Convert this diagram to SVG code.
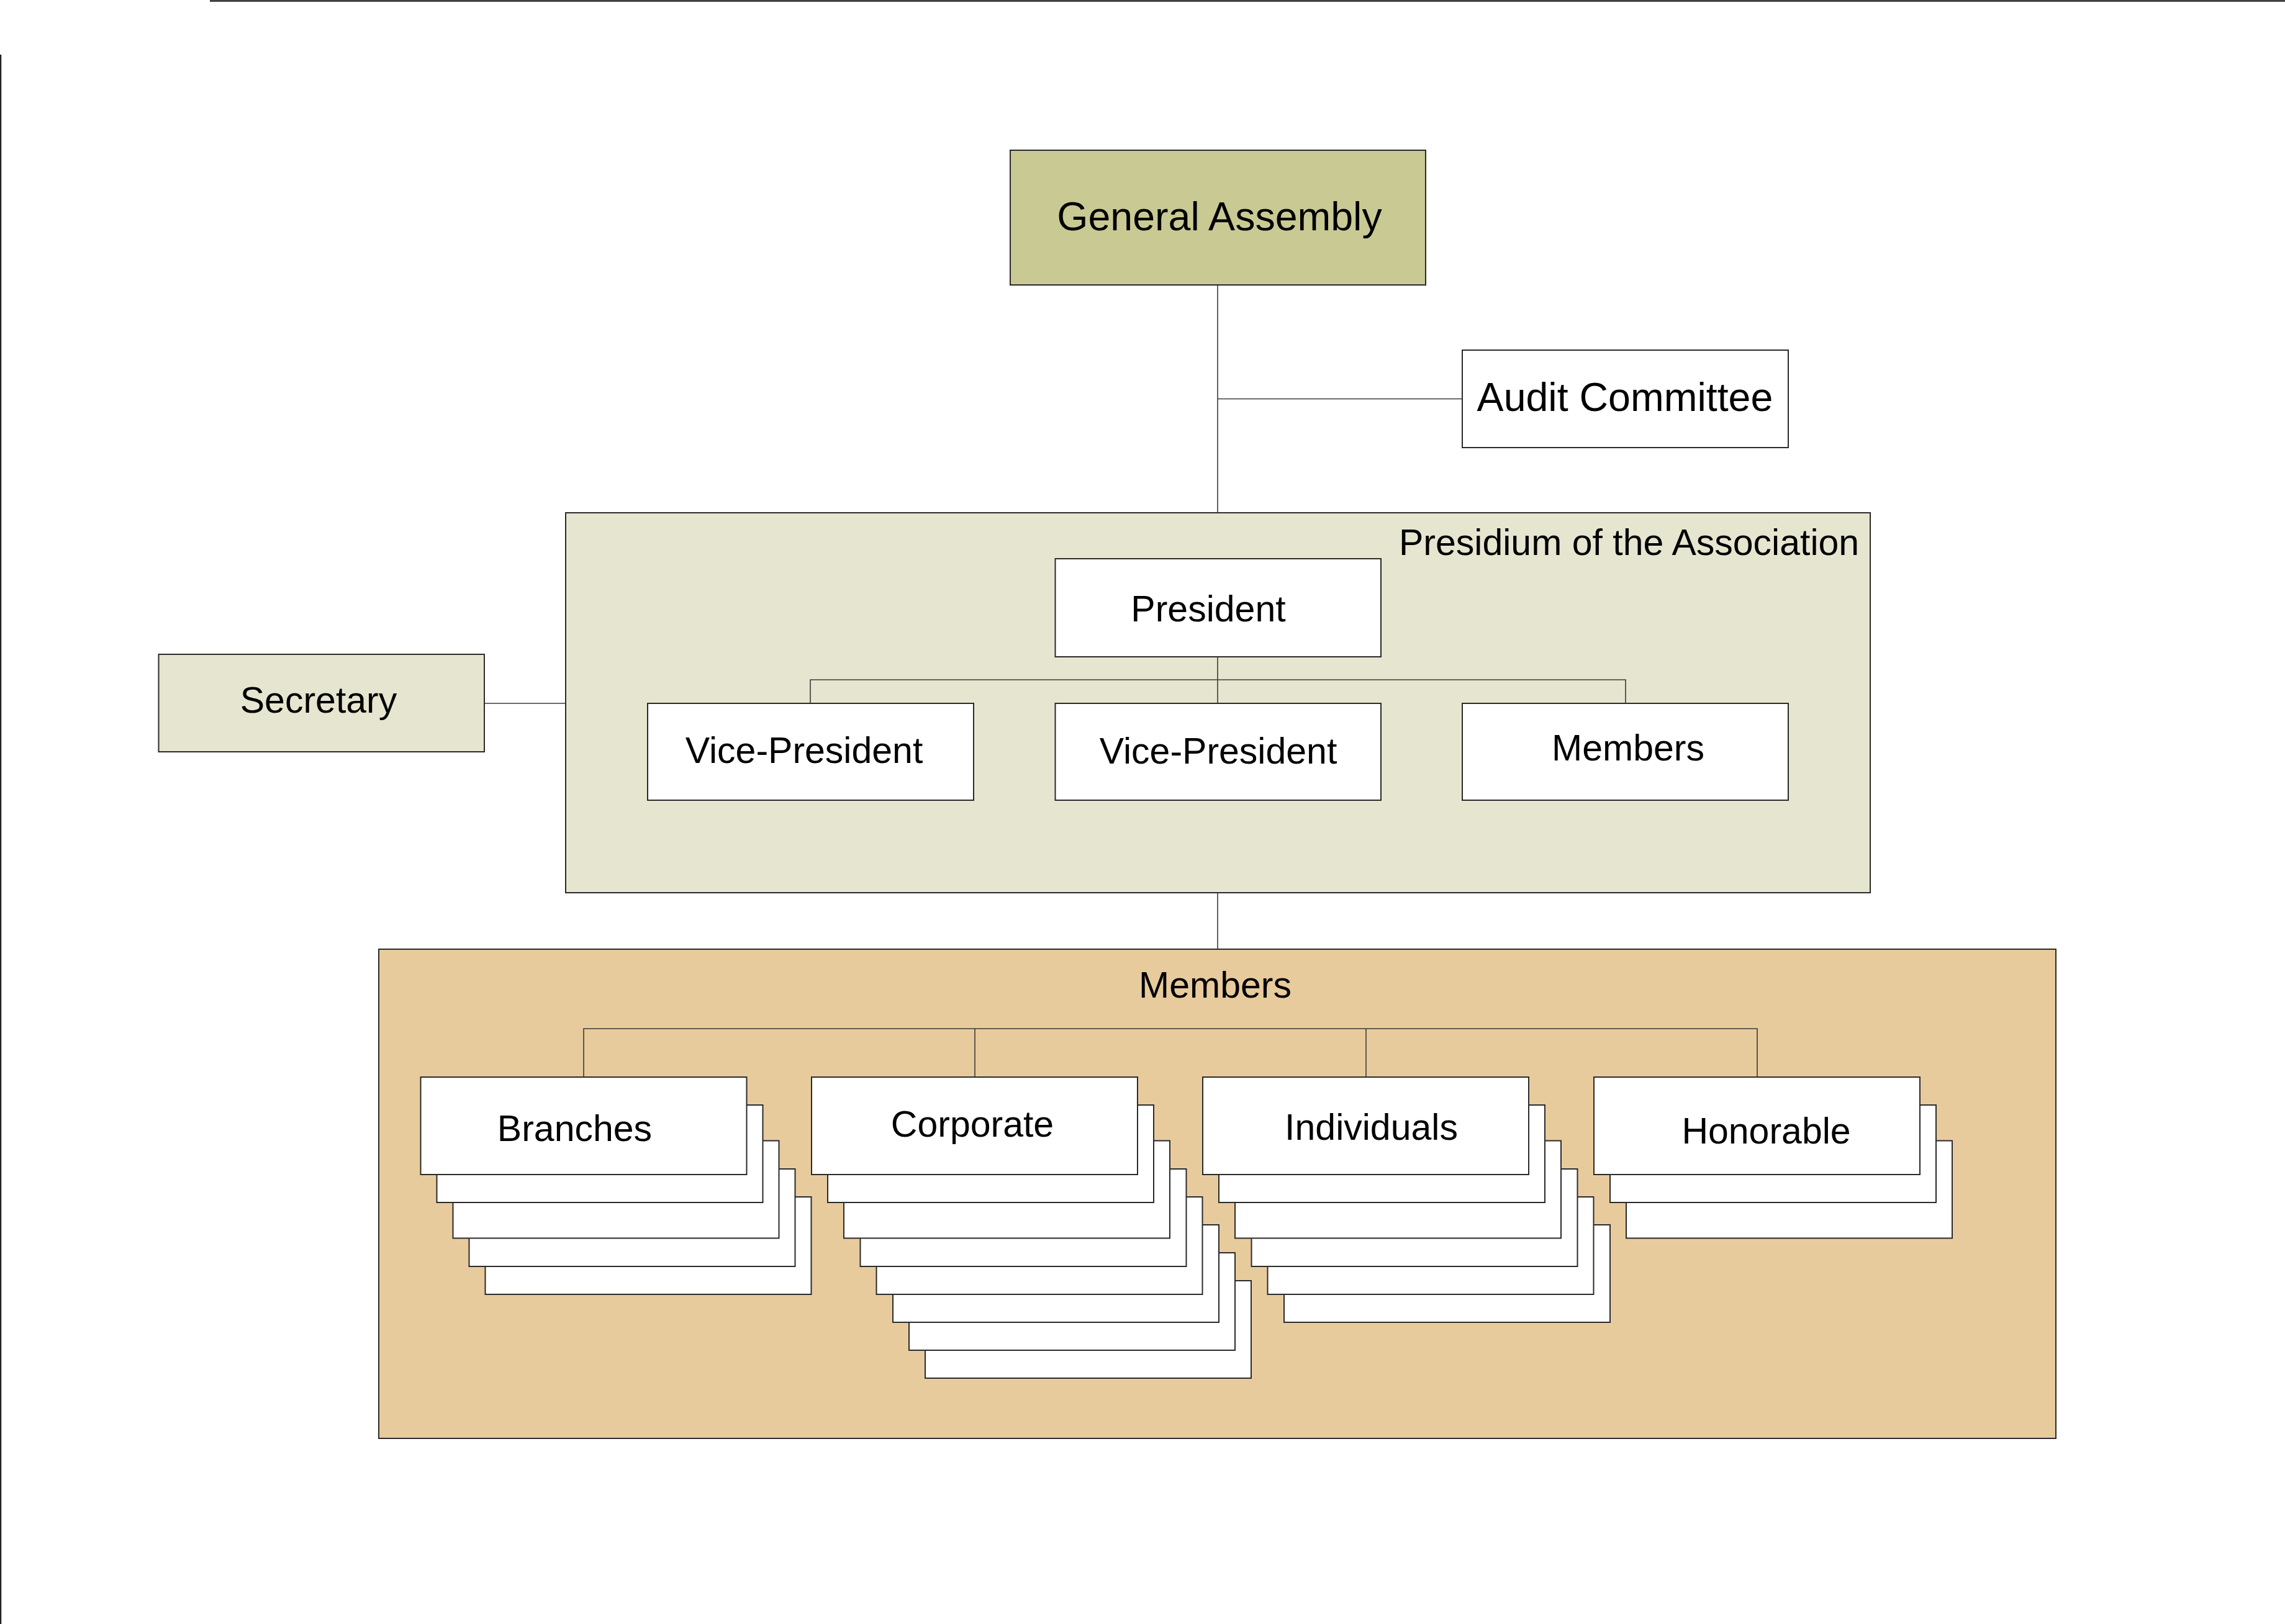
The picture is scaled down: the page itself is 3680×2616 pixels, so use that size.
<svg xmlns="http://www.w3.org/2000/svg" width="3680" height="2616" viewBox="0 0 3680 2616">
<style>
.box{stroke:#2a2a2a;stroke-width:2}
.w{fill:#ffffff}
.ga{fill:#c9c994}
.lt{fill:#e6e5cf}
.tan{fill:#e8cb9c}
.con{stroke:#3a3a3a;stroke-width:1.6;fill:none}
text{font-family:"Liberation Sans",Arial,sans-serif;fill:#000;font-size:59px}
text.big{font-size:64.5px}
.c{text-anchor:middle}
.frame{stroke:#222;stroke-width:2.5;fill:none}
</style>
<rect width="3680" height="2616" fill="#ffffff"/>
<g id="frame">
<line class="frame" x1="338" y1="1.5" x2="3680" y2="1.5"/>
<line class="frame" x1="1" y1="88" x2="1" y2="2616"/>
</g>
<g id="presidium-container">
<rect class="box lt" x="911" y="826" width="2101" height="612"/>
<text x="2253" y="894">Presidium of the Association</text>
</g>
<g id="members-container">
<rect class="box tan" x="610" y="1529" width="2701" height="788"/>
<text class="c" x="1957" y="1607">Members</text>
</g>
<g id="connectors">
<line class="con" x1="1961" y1="459" x2="1961" y2="826"/>
<line class="con" x1="1961" y1="642.5" x2="2355" y2="642.5"/>
<line class="con" x1="780" y1="1133" x2="911" y2="1133"/>
<line class="con" x1="1961" y1="1058" x2="1961" y2="1133"/>
<polyline class="con" points="1305,1133 1305,1095 2618,1095 2618,1133"/>
<line class="con" x1="1961" y1="1438" x2="1961" y2="1529"/>
<polyline class="con" points="940,1735 940,1657 2830,1657 2830,1735"/>
<line class="con" x1="1570" y1="1657" x2="1570" y2="1735"/>
<line class="con" x1="2200" y1="1657" x2="2200" y2="1735"/>
</g>
<g id="general-assembly">
<rect class="box ga" x="1627" y="242" width="669" height="217"/>
<text class="c big" x="1964" y="371">General Assembly</text>
</g>
<g id="audit-committee">
<rect class="box w" x="2355" y="564" width="525" height="157"/>
<text class="c big" x="2617" y="662">Audit Committee</text>
</g>
<g id="secretary">
<rect class="box lt" x="255.5" y="1054" width="524.5" height="157"/>
<text class="c" x="513" y="1148">Secretary</text>
</g>
<g id="president">
<rect class="box w" x="1699.5" y="900" width="524.5" height="158"/>
<text class="c" x="1946" y="1001">President</text>
</g>
<g id="vice-president-1">
<rect class="box w" x="1043" y="1133" width="525" height="156"/>
<text class="c" x="1295" y="1229">Vice-President</text>
</g>
<g id="vice-president-2">
<rect class="box w" x="1699.5" y="1133" width="524.5" height="156"/>
<text class="c" x="1962" y="1230">Vice-President</text>
</g>
<g id="presidium-members">
<rect class="box w" x="2355" y="1133" width="525" height="156"/>
<text class="c" x="2622" y="1225">Members</text>
</g>
<g id="branches">
<rect class="box w" x="781.5" y="1928" width="525" height="157"/>
<rect class="box w" x="755.5" y="1883" width="525" height="157"/>
<rect class="box w" x="729.5" y="1837.5" width="525" height="157"/>
<rect class="box w" x="703.5" y="1780" width="525" height="157"/>
<rect class="box w" x="677.5" y="1735" width="525" height="157"/>
<text class="c" x="925.5" y="1838">Branches</text>
</g>
<g id="corporate">
<rect class="box w" x="1490" y="2063" width="525" height="157"/>
<rect class="box w" x="1464" y="2018" width="525" height="157"/>
<rect class="box w" x="1438" y="1973" width="525" height="157"/>
<rect class="box w" x="1411.5" y="1928" width="525" height="157"/>
<rect class="box w" x="1385.5" y="1883" width="525" height="157"/>
<rect class="box w" x="1359" y="1837.5" width="525" height="157"/>
<rect class="box w" x="1333" y="1780" width="525" height="157"/>
<rect class="box w" x="1307" y="1735" width="525" height="157"/>
<text class="c" x="1566" y="1831">Corporate</text>
</g>
<g id="individuals">
<rect class="box w" x="2068" y="1973" width="525" height="157"/>
<rect class="box w" x="2041.5" y="1928" width="525" height="157"/>
<rect class="box w" x="2015.5" y="1883" width="525" height="157"/>
<rect class="box w" x="1989" y="1837.5" width="525" height="157"/>
<rect class="box w" x="1963" y="1780" width="525" height="157"/>
<rect class="box w" x="1937" y="1735" width="525" height="157"/>
<text class="c" x="2208.5" y="1836">Individuals</text>
</g>
<g id="honorable">
<rect class="box w" x="2619" y="1837.5" width="525" height="157"/>
<rect class="box w" x="2593" y="1780" width="525" height="157"/>
<rect class="box w" x="2567" y="1735" width="525" height="157"/>
<text class="c" x="2844.5" y="1841.5">Honorable</text>
</g>
</svg>
